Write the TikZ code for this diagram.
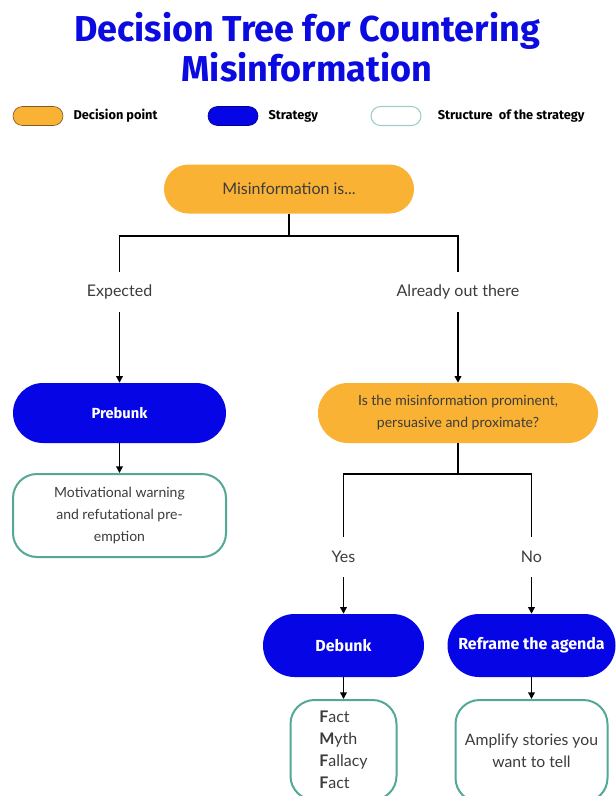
\documentclass[tikz,border=0pt]{standalone}
\usepackage{fontspec}
\setmainfont{Lato}
\newfontfamily\titlefont{Fira Sans}
\usetikzlibrary{arrows.meta,positioning,shapes.misc}

\definecolor{titleblue}{RGB}{10,10,225}
\definecolor{decisionorange}{RGB}{250,178,52}
\definecolor{strategyblue}{RGB}{5,5,230}
\definecolor{structureteal}{RGB}{84,168,150}
\definecolor{legendteal}{RGB}{160,205,200}
\definecolor{bodytext}{RGB}{60,60,60}

\tikzset{
  decision/.style={rounded rectangle, fill=decisionorange, inner sep=0pt,
    font=\fontsize{10.5}{16.5}\selectfont, text=bodytext, align=center},
  strategy/.style={rounded rectangle, fill=strategyblue, inner sep=0pt,
    font=\titlefont\fontsize{12}{14}\selectfont\bfseries, text=white},
  structure/.style={rectangle, rounded corners=18pt, draw=structureteal, line width=1.5pt,
    fill=white, inner sep=0pt, font=\fontsize{10.5}{16.5}\selectfont, text=bodytext},
  choice/.style={minimum height=30pt, inner sep=0pt,
    font=\fontsize{12}{14}\selectfont, text=bodytext},
  branch/.style={line width=1.1pt, black},
  arrow/.style={branch, -{Triangle[length=5pt,width=5pt]}},
  legendpill/.style={rounded rectangle, minimum width=37.5pt, minimum height=14.25pt, inner sep=0pt},
  legendtext/.style={anchor=west, inner sep=0pt, font=\titlefont\fontsize{9.6}{11}\selectfont\bfseries}
}

\begin{document}
\begin{tikzpicture}[x=0.75pt,y=-0.75pt]
    \useasboundingbox[fill=white] (0,0) rectangle (616,796);
    % title
    \node[titleblue, align=center, font=\titlefont\bfseries\fontsize{27}{30}\selectfont] (title) at (307,47)
        {Decision Tree for Countering\\Misinformation};
    % legend
    \node[legendpill, fill=decisionorange, draw=brown!70!black, line width=0.5pt] (keydecision) at (38,116) {};
    \node[legendtext, right=7.5pt of keydecision] (keydecisiontext) {Decision point};
    \node[legendpill, fill=strategyblue, draw=strategyblue!60!black, line width=0.5pt] (keystrategy) at (233,116) {};
    \node[legendtext, right=7.5pt of keystrategy] (keystrategytext) {Strategy};
    \node[legendpill, fill=white, draw=legendteal, line width=0.8pt] (keystructure) at (396,116) {};
    \node[legendtext, right=12pt of keystructure] (keystructuretext) {Structure\ \ of the strategy};
    % first decision
    \node[decision, minimum width=187.5pt, minimum height=36.75pt, font=\fontsize{12}{14}\selectfont] (misinfo) at (289,189) {Misinformation is...};
    \node[choice] (expected) at (119.5,292) {Expected};
    \node[choice] (outthere) at (458,292) {Already out there};
    \coordinate (bus1) at (289,236);
    \draw[branch] (misinfo.south) -- (bus1);
    \draw[branch] (bus1) -| (expected.north);
    \draw[branch] (bus1) -| (outthere.north);
    % prebunk side
    \node[strategy, minimum width=159.75pt, minimum height=45pt, font=\titlefont\fontsize{11}{13}\selectfont\bfseries] (prebunk) at (119.5,413) {Prebunk};
    \node[structure, minimum width=159.75pt, minimum height=62.25pt, align=center] (warning) at (119.5,515.5)
        {Motivational warning\\and refutational pre-\\emption};
    \draw[arrow] (expected.south) -- (prebunk.north);
    \draw[arrow] (prebunk.south) -- (warning.north);
    % second decision
    \node[decision, minimum width=210pt, minimum height=45pt] (prominent) at (458,413)
        {Is the misinformation prominent,\\persuasive and proximate?};
    \draw[arrow] (outthere.south) -- (prominent.north);
    \node[choice] (yes) at (343.5,557) {Yes};
    \node[choice] (no) at (531.5,557) {No};
    \coordinate (bus2) at (458,474);
    \draw[branch] (prominent.south) -- (bus2);
    \draw[branch] (bus2) -| (yes.north);
    \draw[branch] (bus2) -| (no.north);
    % strategies
    \node[strategy, minimum width=120.75pt, minimum height=47.25pt] (debunk) at (343.5,645.5) {Debunk};
    \node[strategy, minimum width=126pt, minimum height=47.25pt] (reframe) at (531.5,645.5) {Reframe the agenda};
    \draw[arrow] (yes.south) -- (debunk.north);
    \draw[arrow] (no.south) -- (reframe.north);
    % structures
    \node[structure, minimum width=79.5pt, minimum height=75pt, align=left, font=\fontsize{12}{16.5}\selectfont] (fmff) at (343.5,750)
        {\textbf{F}act\\\textbf{M}yth\\\textbf{F}allacy\\\textbf{F}act};
    \node[structure, minimum width=114pt, minimum height=76.5pt, align=center, font=\fontsize{11.8}{16.5}\selectfont] (amplify) at (531.5,751)
        {Amplify stories you\\want to tell};
    \draw[arrow] (debunk.south) -- (fmff.north);
    \draw[arrow] (reframe.south) -- (amplify.north);
\end{tikzpicture}
\end{document}
